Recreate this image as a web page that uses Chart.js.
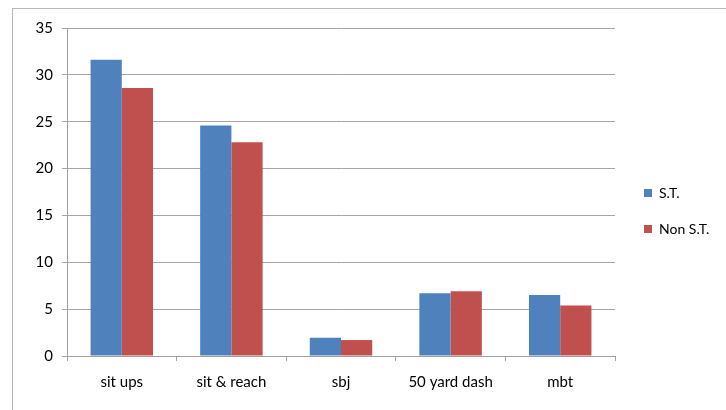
<!DOCTYPE html>
<html>
<head>
<meta charset="utf-8">
<script src="https://cdn.jsdelivr.net/npm/chart.js@4"></script>
<style>
  html, body { margin: 0; padding: 0; background: #fff; }
  #wrap { position: relative; width: 726px; height: 410px; }
  #frame { position: absolute; left: 12px; top: 8px; right: -5px; bottom: -5px; border-left: 1px solid #b8b8b8; border-top: 1px solid #b8b8b8; }
  canvas { position: absolute; left: 0; top: 0; }
</style>
</head>
<body>
<div id="wrap">
  <div id="frame"></div>
  <canvas id="c" width="726" height="410"></canvas>
</div>
<script>
const categories = ["sit ups", "sit & reach", "sbj", "50 yard dash", "mbt"];
const seriesNames = ["S.T.", "Non S.T."];
const stValues = [31.6, 24.6, 1.95, 6.7, 6.5];
const nonStValues = [28.6, 22.8, 1.7, 6.9, 5.4];
const yTicks = [0, 5, 10, 15, 20, 25, 30, 35];

const FONT = "Lato, 'Liberation Sans', sans-serif";

const legendPlugin = {
  id: 'sideLegend',
  afterDraw(chart) {
    const ctx = chart.ctx;
    ctx.save();
    ctx.font = "14px " + FONT;
    ctx.textBaseline = 'middle';
    chart.data.datasets.forEach((ds, i) => {
      const y = 193 + i * 36;
      ctx.fillStyle = ds.backgroundColor;
      ctx.fillRect(644, y - 4, 8, 8);
      ctx.fillStyle = '#000';
      ctx.fillText(ds.label, 659, y);
    });
    ctx.restore();
  }
};

new Chart(document.getElementById('c'), {
  type: 'bar',
  data: {
    labels: categories,
    datasets: [
      { label: seriesNames[0], data: stValues, backgroundColor: '#4F81BD' },
      { label: seriesNames[1], data: nonStValues, backgroundColor: '#C0504D' }
    ]
  },
  options: {
    responsive: false,
    animation: false,
    devicePixelRatio: 1,
    layout: { padding: { left: 0, right: 111, top: 28, bottom: 0 } },
    datasets: { bar: { categoryPercentage: 0.57, barPercentage: 1.0 } },
    plugins: { legend: { display: false }, tooltip: { enabled: false } },
    scales: {
      x: {
        afterFit(s) { s.height = 54; },
        grid: { offset: true, drawOnChartArea: false, color: '#a0a0a0', tickLength: 5, lineWidth: 1 },
        border: { color: '#a0a0a0' },
        ticks: { color: '#000', font: { family: FONT, size: 15 }, padding: 12 }
      },
      y: {
        min: 0, max: 35,
        afterFit(s) { s.width = 67; },
        afterBuildTicks(s) { s.ticks = yTicks.map(v => ({ value: v })); },
        grid: { color: '#a6a6a6', tickLength: 5, lineWidth: 1 },
        border: { color: '#a0a0a0' },
        ticks: { color: '#000', font: { family: FONT, size: 15 }, padding: 9 }
      }
    }
  },
  plugins: [legendPlugin]
});
</script>
</body>
</html>
